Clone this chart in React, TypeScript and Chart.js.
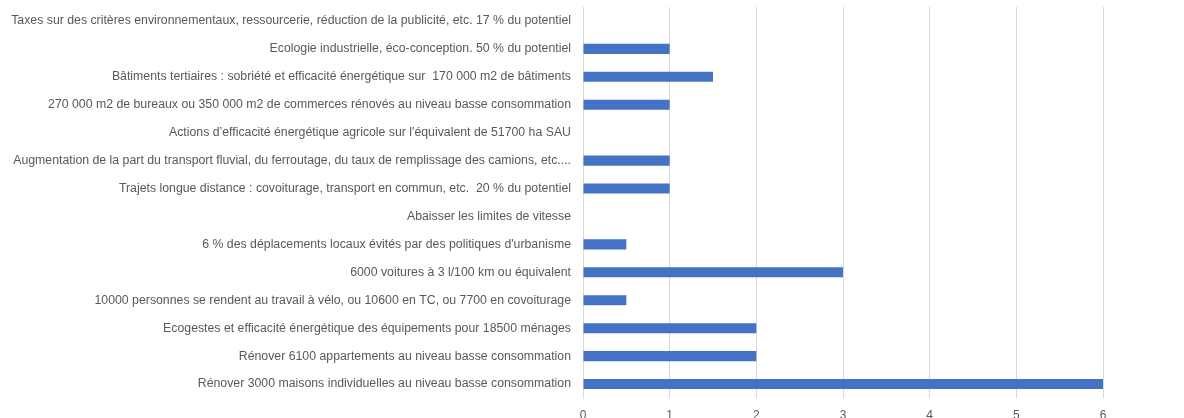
import React, { useEffect, useRef } from "react";
import { Chart, registerables } from "chart.js";

Chart.register(...registerables);

const categories: string[] = [
  "Taxes sur des critères environnementaux, ressourcerie, réduction de la publicité, etc. 17 % du potentiel",
  "Ecologie industrielle, éco-conception. 50 % du potentiel",
  "Bâtiments tertiaires : sobriété et efficacité énergétique sur  170 000 m2 de bâtiments",
  "270 000 m2 de bureaux ou 350 000 m2 de commerces rénovés au niveau basse consommation",
  "Actions d’efficacité énergétique agricole sur l'équivalent de 51700 ha SAU",
  "Augmentation de la part du transport fluvial, du ferroutage, du taux de remplissage des camions, etc....",
  "Trajets longue distance : covoiturage, transport en commun, etc.  20 % du potentiel",
  "Abaisser les limites de vitesse",
  "6 % des déplacements locaux évités par des politiques d'urbanisme",
  "6000 voitures à 3 l/100 km ou équivalent",
  "10000 personnes se rendent au travail à vélo, ou 10600 en TC, ou 7700 en covoiturage",
  "Ecogestes et efficacité énergétique des équipements pour 18500 ménages",
  "Rénover 6100 appartements au niveau basse consommation",
  "Rénover 3000 maisons individuelles au niveau basse consommation",
];

const values: number[] = [0, 1, 1.5, 1, 0, 1, 1, 0, 0.5, 3, 0.5, 2, 2, 6];

const xTicks: number[] = [0, 1, 2, 3, 4, 5, 6];

const FONT = "'Liberation Sans', Arial, sans-serif";

export default function App() {
  const ref = useRef<HTMLCanvasElement | null>(null);

  useEffect(() => {
    if (!ref.current) return;
    const chart = new Chart(ref.current, {
      type: "bar",
      data: {
        labels: categories,
        datasets: [
          {
            data: values,
            backgroundColor: "#4472C4",
            borderWidth: 0,
            barPercentage: 0.36,
            categoryPercentage: 1,
          },
        ],
      },
      options: {
        indexAxis: "y",
        responsive: false,
        animation: false,
        maintainAspectRatio: false,
        layout: { padding: { top: 7, left: 0, right: 81, bottom: 0 } },
        plugins: {
          legend: { display: false },
          tooltip: { enabled: false },
        },
        scales: {
          x: {
            min: 0,
            max: 6,
            afterBuildTicks: (s: any) => {
              s.ticks = xTicks.map((v) => ({ value: v }));
            },
            afterFit: (s: any) => {
              s.height = 34;
              s.paddingLeft = 0;
              s.paddingRight = 0;
            },
            grid: { color: "#d9d9d9", lineWidth: 1, drawTicks: false },
            border: { display: false },
            ticks: {
              color: "#595959",
              padding: 10,
              font: { family: FONT, size: 12 },
            },
          },
          y: {
            afterFit: (s: any) => {
              s.width = 583;
              s.paddingTop = 0;
              s.paddingBottom = 0;
            },
            grid: { display: false, drawTicks: false },
            border: { display: true, color: "#d9d9d9", width: 1 },
            ticks: {
              color: "#595959",
              padding: 12,
              autoSkip: false,
              font: { family: FONT, size: 12.3 },
            },
          },
        },
      },
    });
    return () => chart.destroy();
  }, []);

  return (
    <div
      style={{
        position: "absolute",
        left: 0,
        top: 0,
        width: 1184,
        height: 418,
        overflow: "hidden",
        background: "#fff",
      }}
    >
      <canvas ref={ref} width={1184} height={432} style={{ display: "block" }} />
    </div>
  );
}
